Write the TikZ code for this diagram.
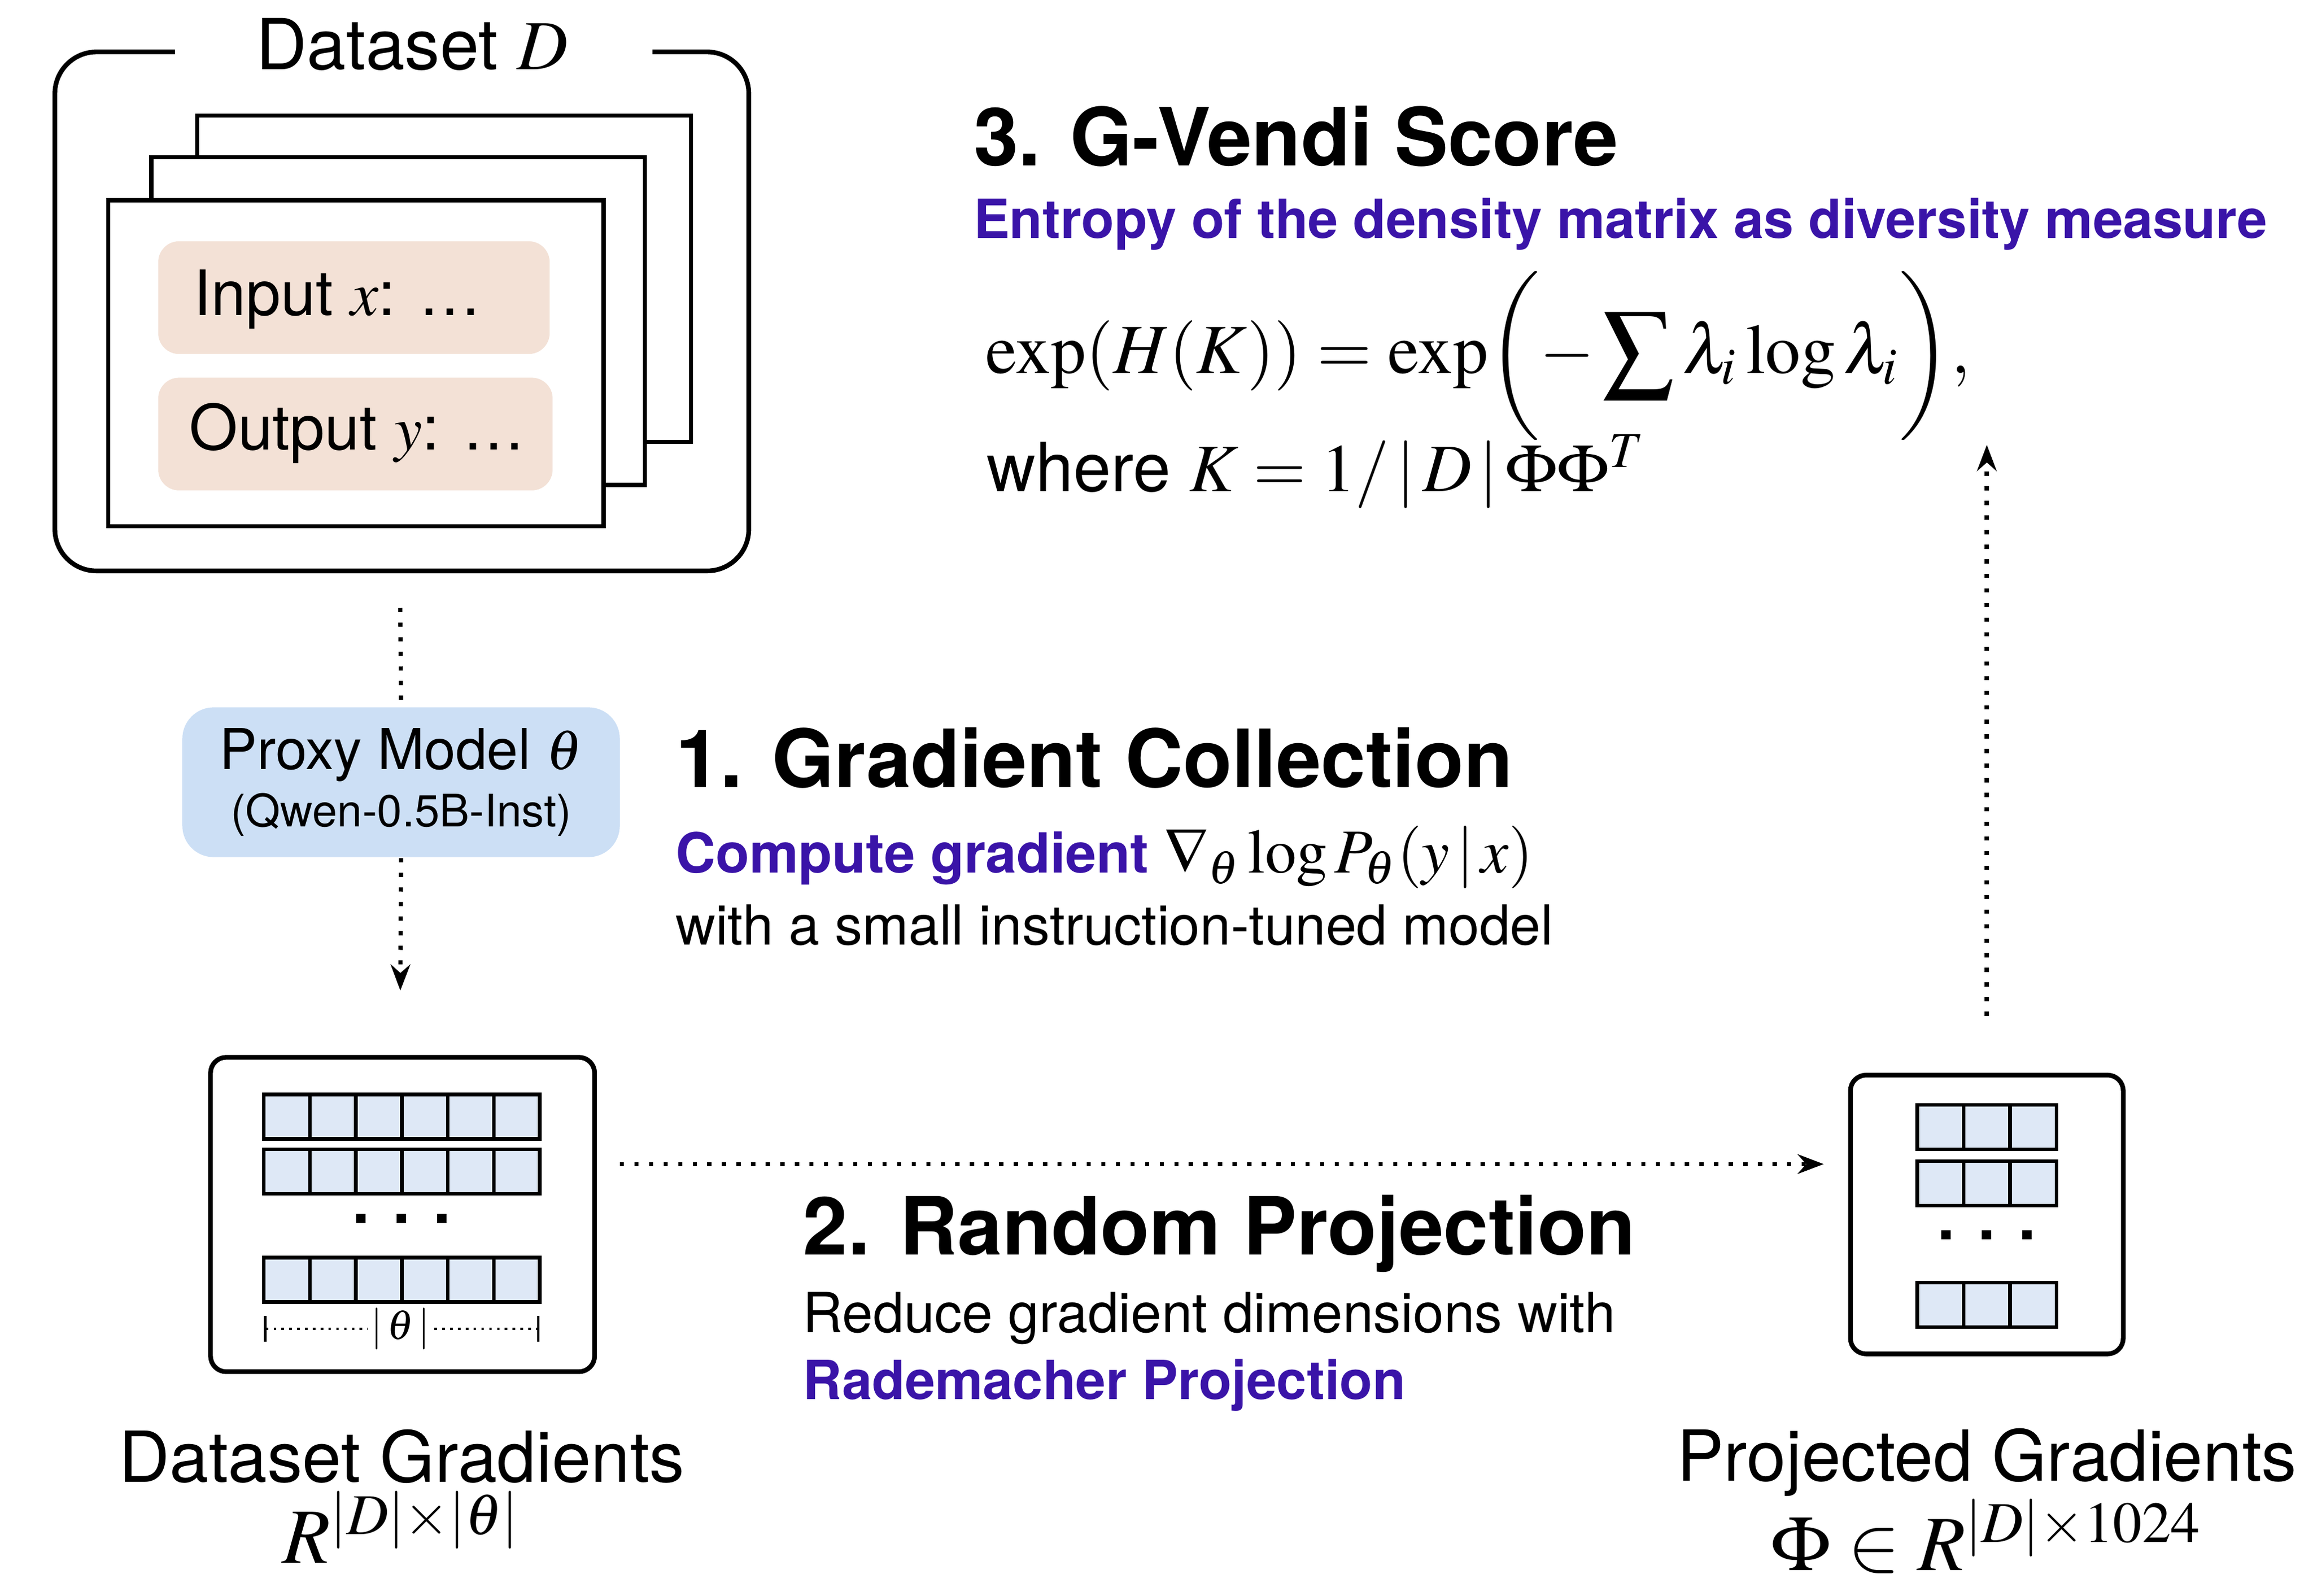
\documentclass[tikz,border=0pt]{standalone}
\usepackage{amsmath}
\usepackage{mathptmx}
\usepackage[no-math]{fontspec}
\setmainfont{TeX Gyre Heros}
\usetikzlibrary{positioning,arrows.meta}
\definecolor{peach}{RGB}{243,225,214}
\definecolor{proxyblue}{RGB}{204,223,245}
\definecolor{cellblue}{RGB}{222,232,246}
\definecolor{deeppurple}{RGB}{58,20,168}
\tikzset{
  page/.style={draw, line width=0.8pt, fill=white},
  field/.style={fill=peach, rounded corners=4pt, inner sep=0, anchor=north west},
  cell/.style={draw, line width=0.7pt, fill=cellblue},
  flow/.style={dotted, line width=0.8pt, -{Stealth[length=5pt]}},
  heading/.style={font=\fontsize{15.4}{18}\selectfont\bfseries, anchor=west, inner sep=0},
  subhead/.style={font=\fontsize{10.35}{12}\selectfont\bfseries, text=deeppurple, anchor=west, inner sep=0},
  body/.style={font=\fontsize{10.6}{12}\selectfont, anchor=west, inner sep=0},
  caption/.style={font=\fontsize{13.5}{15}\selectfont, inner sep=0}
}
\begin{document}
\begin{tikzpicture}[x=1cm,y=1cm]
\useasboundingbox (0,0) rectangle (15.6,-10.76);
% dataset box
\draw[line width=0.9pt, rounded corners=8pt] (1.18,-0.35) -- (0.37,-0.35) -- (0.37,-3.85) -- (5.05,-3.85) -- (5.05,-0.35) -- (4.40,-0.35);
\node[caption] (dtitle) at (2.78,-0.30) {Dataset $D$};
\draw[page] (1.33,-0.78) rectangle (4.66,-2.98);
\draw[page] (1.02,-1.06) rectangle (4.35,-3.27);
\draw[page] (0.73,-1.35) rectangle (4.07,-3.55);
\node[field, minimum width=2.64cm, minimum height=0.76cm] (inp) at (1.06,-1.62) {};
\node[body, font=\fontsize{12}{14}\selectfont] at (1.30,-2.02) {Input $x$: \dots};
\node[field, minimum width=2.66cm, minimum height=0.76cm] (outp) at (1.06,-2.54) {};
\node[body, font=\fontsize{12}{14}\selectfont] at (1.27,-2.92) {Output $y$: \dots};
\coordinate (dbot) at (2.70,-4.10);
% proxy model
\node[fill=proxyblue, rounded corners=6pt, minimum width=2.95cm, minimum height=1.01cm, align=center, inner sep=0] (proxy) at (2.705,-5.275)
  {{\fontsize{10.8}{13}\selectfont Proxy Model $\theta$}\\[-1pt]{\fontsize{8.6}{10}\selectfont (Qwen-0.5B-Inst)}};
\coordinate (gtop) at (2.70,-6.68);
\draw[dotted, line width=0.8pt] (dbot) -- (proxy.north);
\draw[flow] (proxy.south) -- (gtop);
% dataset gradients
\node[draw, line width=0.9pt, rounded corners=3pt, minimum width=2.59cm, minimum height=2.12cm] (grad) at (2.715,-8.19) {};
\foreach \y in {7.38,7.75,8.48}
  \foreach \i in {0,...,5}
    \draw[cell] (1.78+0.31*\i,-\y) rectangle ++(0.31,-0.30);
\node[font=\bfseries\large] at (2.71,-8.22) {. . .};
\draw[densely dotted, line width=0.5pt, |-] (1.78,-8.96) -- (2.48,-8.96);
\draw[densely dotted, line width=0.5pt, -|] (2.93,-8.96) -- (3.64,-8.96);
\node[font=\footnotesize, inner sep=0] at (2.70,-8.96) {$|\,\theta\,|$};
\node[caption] (gcap) at (2.71,-9.82) {Dataset Gradients};
\node[caption, font=\fontsize{15}{17}\selectfont] at (2.71,-10.30) {$R^{|D|\times|\theta|}$};
% projected gradients
\node[draw, line width=0.9pt, rounded corners=3pt, minimum width=1.84cm, minimum height=1.88cm] (proj) at (13.40,-8.19) {};
\foreach \y in {7.45,7.83,8.65}
  \foreach \i in {0,...,2}
    \draw[cell] (12.93+0.313*\i,-\y) rectangle ++(0.313,-0.30);
\node[font=\bfseries\large] at (13.40,-8.33) {. . .};
\node[caption] (pcap) at (13.40,-9.86) {Projected Gradients};
\node[caption, font=\fontsize{15}{17}\selectfont] at (13.40,-10.36) {$\Phi\in R^{|D|\times 1024}$};
\coordinate (ptop) at (13.40,-6.85);
\coordinate (ftop) at (13.40,-3.00);
\draw[flow] (4.18,-7.85) -- (12.30,-7.85);
\draw[flow] (ptop) -- (ftop);
% texts
\node[heading] at (4.55,-5.11) {1. Gradient Collection};
\node[body] at (4.55,-5.78) {\textcolor{deeppurple}{\bfseries Compute gradient} \large$\nabla_\theta \log P_\theta(y\,|\,x)$};
\node[body] at (4.55,-6.24) {with a small instruction-tuned model};
\node[heading] at (5.41,-8.32) {2. Random Projection};
\node[body] at (5.41,-8.89) {Reduce gradient dimensions with};
\node[subhead] at (5.41,-9.34) {Rademacher Projection};
\node[heading] at (6.56,-0.92) {3. G-Vendi Score};
\node[subhead] at (6.56,-1.51) {Entropy of the density matrix as diversity measure};
\node[body, font=\fontsize{13.5}{16}\selectfont] at (6.64,-2.40) {$\displaystyle\exp(H(K)) = \exp\biggl(-\sum \lambda_i \log \lambda_i\biggr),$};
\node[body, font=\fontsize{13}{15}\selectfont] at (6.65,-3.18) {where $K = 1/\,|\,D\,|\,\Phi\Phi^T$};
\end{tikzpicture}
\end{document}
